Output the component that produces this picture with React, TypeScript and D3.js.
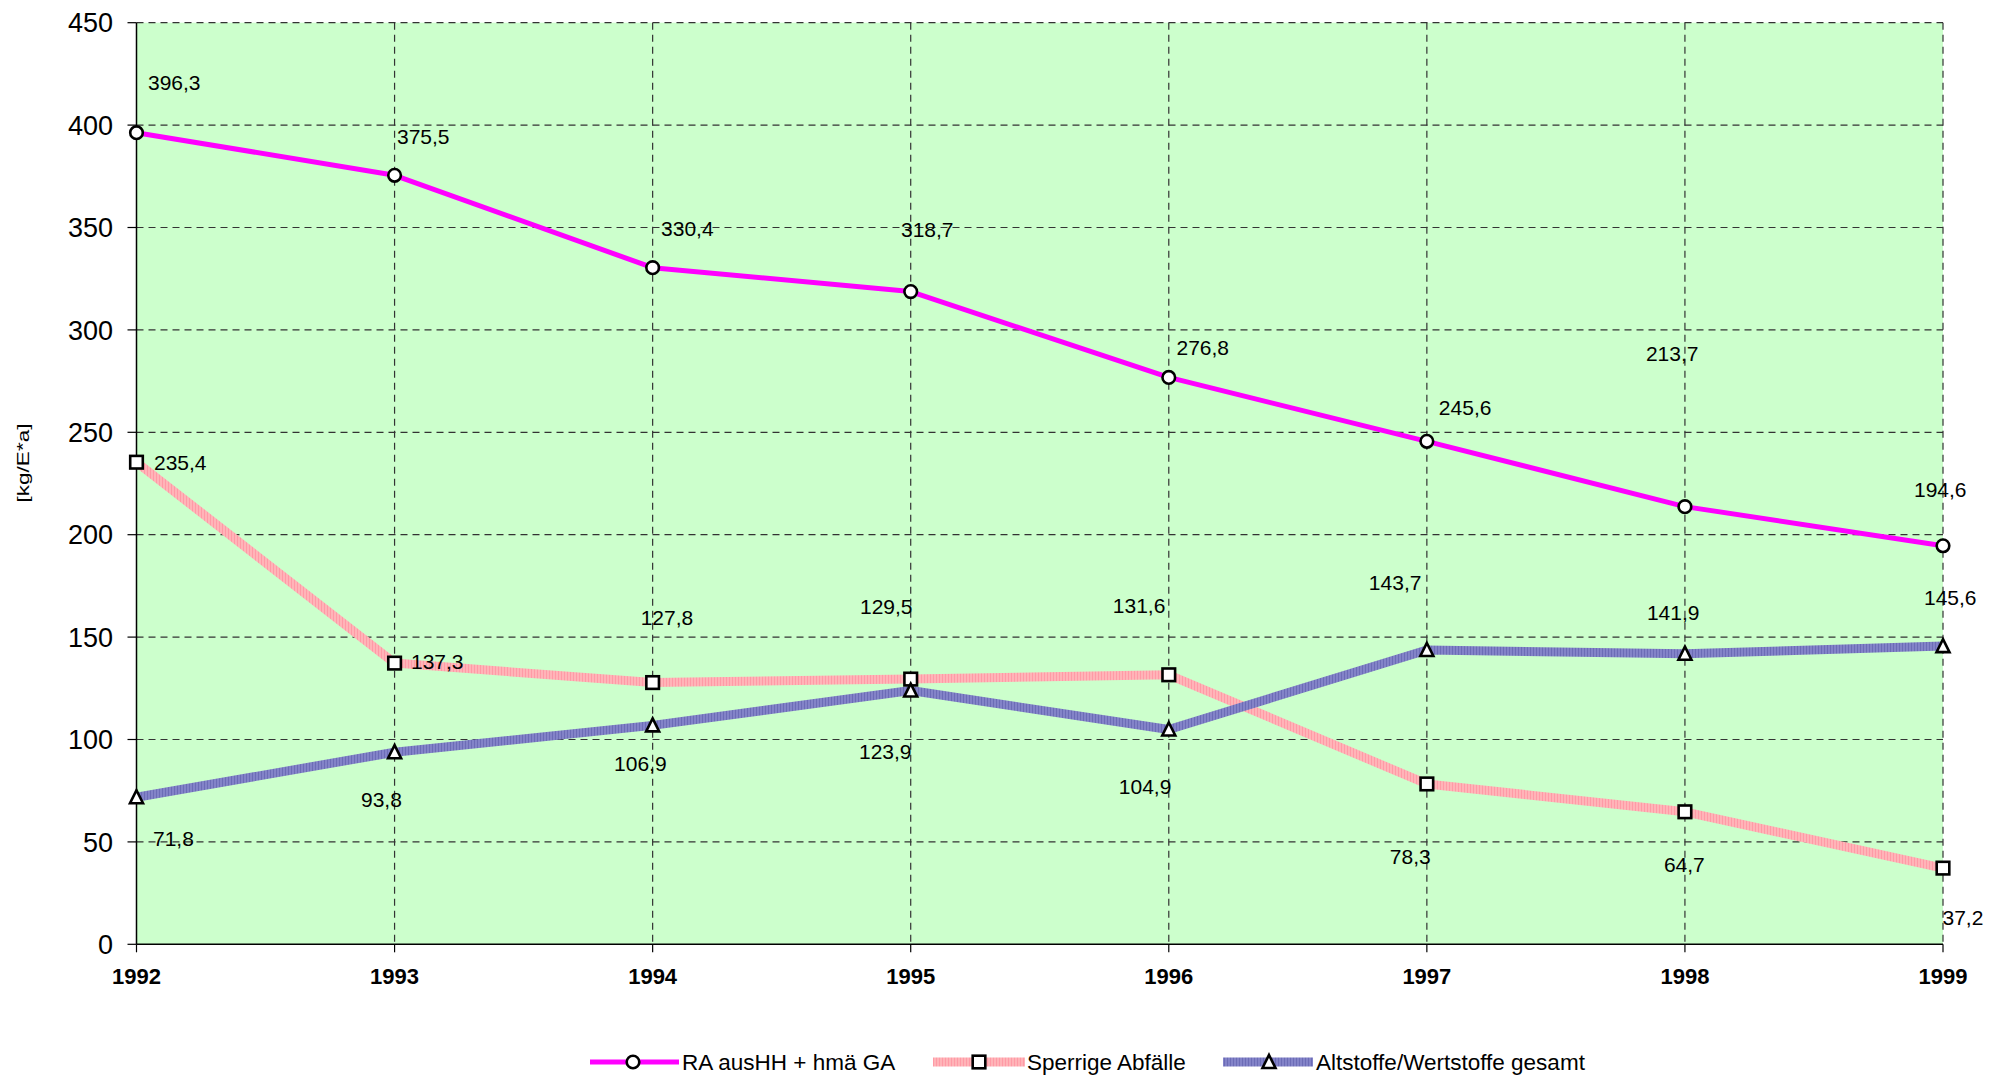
import React from "react";
import * as d3 from "d3";

const years = ["1992", "1993", "1994", "1995", "1996", "1997", "1998", "1999"];
const yTicks = [0, 50, 100, 150, 200, 250, 300, 350, 400, 450];
const raValues = [396.3, 375.5, 330.4, 318.7, 276.8, 245.6, 213.7, 194.6];
const sperrigValues = [235.4, 137.3, 127.8, 129.5, 131.6, 78.3, 64.7, 37.2];
const altValues = [71.8, 93.8, 106.9, 123.9, 104.9, 143.7, 141.9, 145.6];
const seriesNames = ["RA ausHH + hmä GA", "Sperrige Abfälle", "Altstoffe/Wertstoffe gesamt"];
const yTitle = "[kg/E*a]";

// label offsets (left edge dx, vertical center dy) relative to each point
const raLabelOff = [[11.5, -50], [2.4, -39], [8.4, -39], [-9.7, -62], [7.7, -30], [12, -34], [-39, -153], [-29, -56]];
const spLabelOff = [[17.5, 0], [16.4, -2], [-12, -65], [-50.7, -73], [-56, -69], [-37, 72], [-21, 53], [-0.5, 49]];
const altLabelOff = [[16.5, 41], [-33.6, 47], [-38.6, 37.6], [-51.7, 61], [-50, 56.5], [-58, -68], [-38, -41], [-19, -49]];

const FONT = "Arial, 'Liberation Sans', Helvetica, sans-serif";

const fmt = (v: number) => v.toFixed(1).replace(".", ",");

function Marker({ kind, x, y }: { kind: string; x: number; y: number }) {
  if (kind === "circle")
    return <circle cx={x} cy={y} r={6.3} fill="#fff" stroke="#000" strokeWidth={2.6} />;
  if (kind === "square")
    return <rect x={x - 6.3} y={y - 6.3} width={12.6} height={12.6} fill="#fff" stroke="#000" strokeWidth={2.6} />;
  const h = 12;
  return (
    <path
      d={`M${x},${y - h / 2 - 1} L${x + 6.5},${y + h / 2} L${x - 6.5},${y + h / 2} Z`}
      fill="#fff"
      stroke="#000"
      strokeWidth={2.6}
      strokeLinejoin="miter"
    />
  );
}

export default function App() {
  const W = 2001, H = 1078;
  const left = 136.5, right = 1943, top = 22.7, bottom = 944.3;
  const x = d3.scalePoint<string>().domain(years).range([left, right]);
  const y = d3.scaleLinear().domain([0, 450]).range([bottom, top]);
  const line = d3.line<number>().x((_, i) => x(years[i])!).y((d) => y(d));

  const series = [
    { vals: raValues, stroke: "#FF00FF", width: 5, marker: "circle", off: raLabelOff },
    { vals: sperrigValues, stroke: "url(#pinkPat)", width: 9, marker: "square", off: spLabelOff },
    { vals: altValues, stroke: "url(#bluePat)", width: 9, marker: "triangle", off: altLabelOff },
  ];

  const legend = [
    { x1: 590, x2: 679, mx: 633, tx: 682 },
    { x1: 933, x2: 1025, mx: 979, tx: 1027 },
    { x1: 1223, x2: 1313, mx: 1269, tx: 1316 },
  ];
  const legY = 1062;

  return (
    <svg width={W} height={H} style={{ position: "absolute", left: 0, top: 0 }} fontFamily={FONT}>
      <defs>
        <pattern id="pinkPat" patternUnits="userSpaceOnUse" width="3" height="3">
          <rect width="3" height="3" fill="#FFB4B8" />
          <rect width="1" height="3" fill="#FF9AA6" />
        </pattern>
        <pattern id="bluePat" patternUnits="userSpaceOnUse" width="3" height="3">
          <rect width="3" height="3" fill="#8383C8" />
          <rect width="1" height="3" fill="#6C6CB6" />
        </pattern>
      </defs>
      <rect x={0} y={0} width={W} height={H} fill="#fff" />
      <rect x={left} y={top} width={right - left} height={bottom - top} fill="#CCFFCC" />

      {/* horizontal gridlines */}
      {yTicks.filter((t) => t > 0).map((t) => (
        <line key={"h" + t} x1={left} x2={right} y1={y(t)} y2={y(t)} stroke="#333" strokeWidth={1.2} strokeDasharray="7,5" />
      ))}
      {/* vertical gridlines */}
      {years.slice(1).map((yr) => (
        <line key={"v" + yr} x1={x(yr)} x2={x(yr)} y1={top} y2={bottom} stroke="#333" strokeWidth={1.2} strokeDasharray="7,5" />
      ))}

      {/* axes */}
      <line x1={left} x2={left} y1={top} y2={bottom} stroke="#000" strokeWidth={1.5} />
      <line x1={left} x2={right} y1={bottom} y2={bottom} stroke="#000" strokeWidth={1.5} />
      {yTicks.map((t) => (
        <g key={"yt" + t}>
          <line x1={left - 9} x2={left} y1={y(t)} y2={y(t)} stroke="#000" strokeWidth={1.2} />
          <text x={113} y={y(t)} dy="0.36em" textAnchor="end" fontSize={27} fill="#000">
            {t}
          </text>
        </g>
      ))}
      {years.map((yr) => (
        <g key={"xt" + yr}>
          <line x1={x(yr)} x2={x(yr)} y1={bottom} y2={bottom + 8} stroke="#000" strokeWidth={1.2} />
          <text x={x(yr)} y={984} textAnchor="middle" fontSize={22} fontWeight="bold" fill="#000">
            {yr}
          </text>
        </g>
      ))}
      <text
        transform="translate(29,463) rotate(-90)"
        textAnchor="middle"
        fontSize={17}
        textLength={79}
        lengthAdjust="spacingAndGlyphs"
        fill="#000"
      >
        {yTitle}
      </text>

      {/* lines */}
      {series.map((s, si) => (
        <path key={"l" + si} d={line(s.vals)!} fill="none" stroke={s.stroke} strokeWidth={s.width} strokeLinejoin="round" />
      ))}
      {series.map((s, si) =>
        s.vals.map((v, i) => <Marker key={"m" + si + i} kind={s.marker} x={x(years[i])!} y={y(v)} />)
      )}
      {/* labels */}
      {series.map((s, si) =>
        s.vals.map((v, i) => (
          <text
            key={"t" + si + i}
            x={x(years[i])! + s.off[i][0]}
            y={y(v) + s.off[i][1]}
            dy="0.36em"
            fontSize={21}
            fill="#000"
          >
            {fmt(v)}
          </text>
        ))
      )}

      {/* legend */}
      {series.map((s, si) => (
        <g key={"lg" + si}>
          <line x1={legend[si].x1} x2={legend[si].x2} y1={legY} y2={legY} stroke={s.stroke} strokeWidth={si === 0 ? 5 : 9} />
          <Marker kind={s.marker} x={legend[si].mx} y={legY} />
          <text x={legend[si].tx} y={legY} dy="0.36em" fontSize={22.5} fill="#000">
            {seriesNames[si]}
          </text>
        </g>
      ))}
    </svg>
  );
}
